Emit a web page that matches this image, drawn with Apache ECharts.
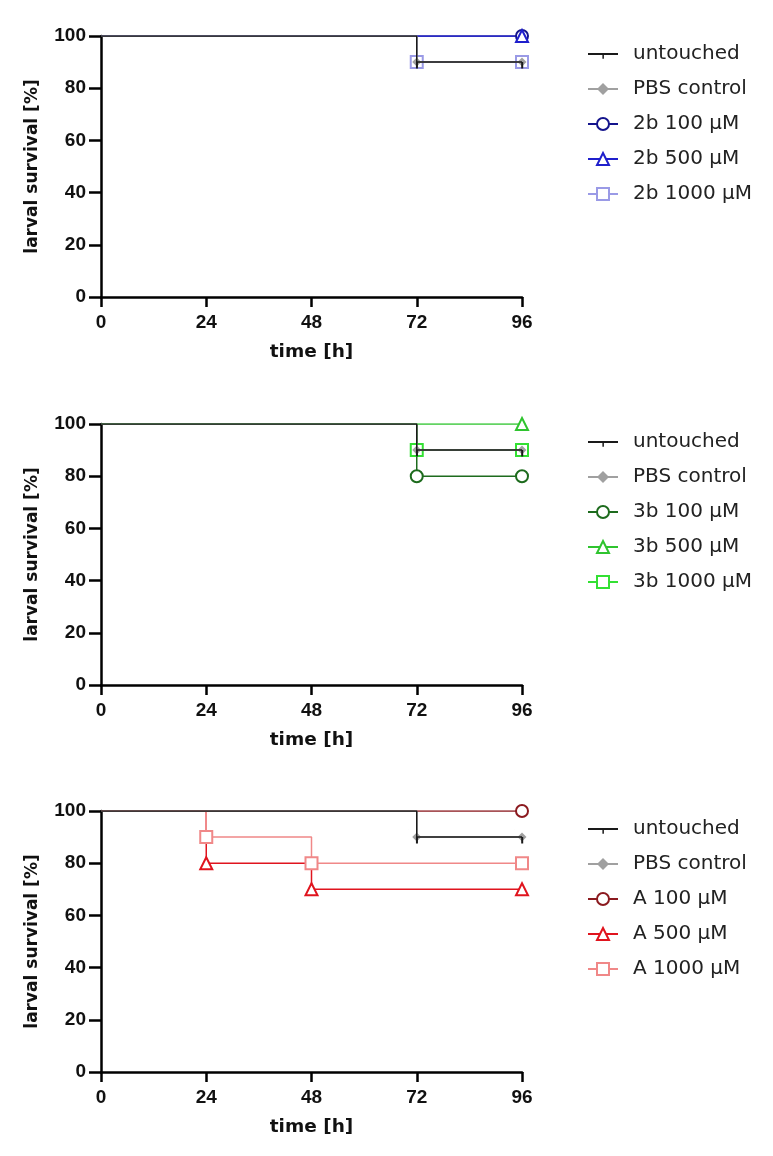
<!DOCTYPE html>
<html>
<head>
<meta charset="utf-8">
<script src="https://cdn.jsdelivr.net/npm/echarts@6/dist/echarts.min.js"></script>
<style>
  html, body { margin: 0; padding: 0; background: #fff; }
  #chart { width: 773px; height: 1156px; }
</style>
</head>
<body>
<div id="chart"></div>
<script>
// survival curves: [time h, survival %] at each event / end point
const timeTicks = [0, 24, 48, 72, 96];

const untouched = [[0, 100], [72, 90], [96, 90]];
const pbsControl = [[0, 100], [72, 90], [96, 90]];

const b2_100 = [[0, 100], [96, 100]];
const b2_500 = [[0, 100], [96, 100]];
const b2_1000 = [[0, 100], [72, 90], [96, 90]];

const b3_100 = [[0, 100], [72, 80], [96, 80]];
const b3_500 = [[0, 100], [96, 100]];
const b3_1000 = [[0, 100], [72, 90], [96, 90]];

const a_100 = [[0, 100], [96, 100]];
const a_500 = [[0, 100], [24, 80], [48, 70], [96, 70]];
const a_1000 = [[0, 100], [24, 90], [48, 80], [96, 80]];

const panels = [
  { top: 36, groups: [
    { name: '2b 100 µM', data: b2_100, color: '#14148c', symbol: 'emptyCircle' },
    { name: '2b 500 µM', data: b2_500, color: '#1f1fcc', symbol: 'emptyTriangle' },
    { name: '2b 1000 µM', data: b2_1000, color: '#9a9ae6', symbol: 'emptyRect' }
  ]},
  { top: 424, groups: [
    { name: '3b 100 µM', data: b3_100, color: '#1d6b1d', symbol: 'emptyCircle' },
    { name: '3b 500 µM', data: b3_500, color: '#2fc42f', symbol: 'emptyTriangle' },
    { name: '3b 1000 µM', data: b3_1000, color: '#33e033', symbol: 'emptyRect' }
  ]},
  { top: 811, groups: [
    { name: 'A 100 µM', data: a_100, color: '#8b1a1f', symbol: 'emptyCircle' },
    { name: 'A 500 µM', data: a_500, color: '#e0141e', symbol: 'emptyTriangle' },
    { name: 'A 1000 µM', data: a_1000, color: '#f08888', symbol: 'emptyRect' }
  ]}
];

const font = '"DejaVu Sans", Verdana, sans-serif';
const numFont = '"Liberation Sans", Arial, sans-serif';
const plotH = 261;
// small censor tick hanging below the line, inside a square box
const tickMark = 'path://M0,0 L0.1,0 L0.1,0.1 Z M9,10 L11.5,10 L11.5,18 L9,18 Z M19.9,19.9 L20,19.9 L20,20 Z';

function pts(arr) {
  // no marker at the start point
  return arr.map((p, i) => i === 0 ? { value: p, symbol: 'none' } : p);
}

const grid = [], xAxis = [], yAxis = [], legend = [], series = [];

panels.forEach((panel, k) => {
  grid.push({ left: 101, width: 421, top: panel.top, height: plotH });
  xAxis.push({
    gridIndex: k, type: 'value', min: 0, max: 96, interval: 24,
    name: 'time [h]', nameLocation: 'middle', nameGap: 46,
    nameTextStyle: { fontFamily: font, fontWeight: 'bold', fontSize: 18.5, color: '#111' },
    axisLine: { lineStyle: { color: '#000', width: 2.5 } },
    axisTick: { show: true, length: 10, lineStyle: { color: '#000', width: 2.5 } },
    axisLabel: { fontFamily: numFont, fontWeight: 'bold', fontSize: 19, color: '#111', margin: 16 },
    splitLine: { show: false }
  });
  yAxis.push({
    gridIndex: k, type: 'value', min: 0, max: 100, interval: 20,
    name: 'larval survival [%]', nameLocation: 'middle', nameGap: 60,
    nameTextStyle: { fontFamily: font, fontWeight: 'bold', fontSize: 17, color: '#111' },
    axisLine: { lineStyle: { color: '#000', width: 2.5 } },
    axisTick: { show: true, length: 12, lineStyle: { color: '#000', width: 2.5 } },
    axisLabel: { fontFamily: numFont, fontWeight: 'bold', fontSize: 19, color: '#111', margin: 15 },
    splitLine: { show: false }
  });

  const names = ['untouched', 'PBS control'].concat(panel.groups.map(g => g.name));
  legend.push({
    orient: 'vertical', left: 582, top: panel.top + 3,
    itemWidth: 30, itemHeight: 15, itemGap: 15,
    data: names.map(n => ({ name: n })),
    textStyle: { fontFamily: font, fontSize: 20, color: '#222', lineHeight: 20, padding: [0, 0, 0, 10] },
    selectedMode: false
  });

  panel.groups.forEach(g => {
    series.push({
      name: g.name, type: 'line', step: 'end',
      xAxisIndex: k, yAxisIndex: k,
      data: pts(g.data),
      symbol: g.symbol, symbolSize: 12,
      color: g.color,
      lineStyle: { color: g.color, width: 1.5 },
      itemStyle: { color: g.color, borderColor: g.color, borderWidth: 2.5 },
      z: 2, animation: false
    });
  });

  series.push({
    name: 'PBS control', type: 'line', step: 'end',
    xAxisIndex: k, yAxisIndex: k,
    data: pts(pbsControl),
    symbol: 'diamond', symbolSize: 9,
    color: '#a0a0a0',
    lineStyle: { color: '#a0a0a0', width: 1.5 },
    itemStyle: { color: '#a0a0a0' },
    z: 3, animation: false
  });
  series.push({
    name: 'untouched', type: 'line', step: 'end',
    xAxisIndex: k, yAxisIndex: k,
    data: pts(untouched),
    symbol: tickMark, symbolSize: 16,
    color: '#1a1a1a',
    lineStyle: { color: '#1a1a1a', width: 1.5 },
    itemStyle: { color: '#1a1a1a' },
    z: 4, animation: false
  });
});

const chart = echarts.init(document.getElementById('chart'));
chart.setOption({
  backgroundColor: '#fff',
  animation: false,
  grid: grid,
  xAxis: xAxis,
  yAxis: yAxis,
  legend: legend,
  series: series
});
</script>
</body>
</html>
